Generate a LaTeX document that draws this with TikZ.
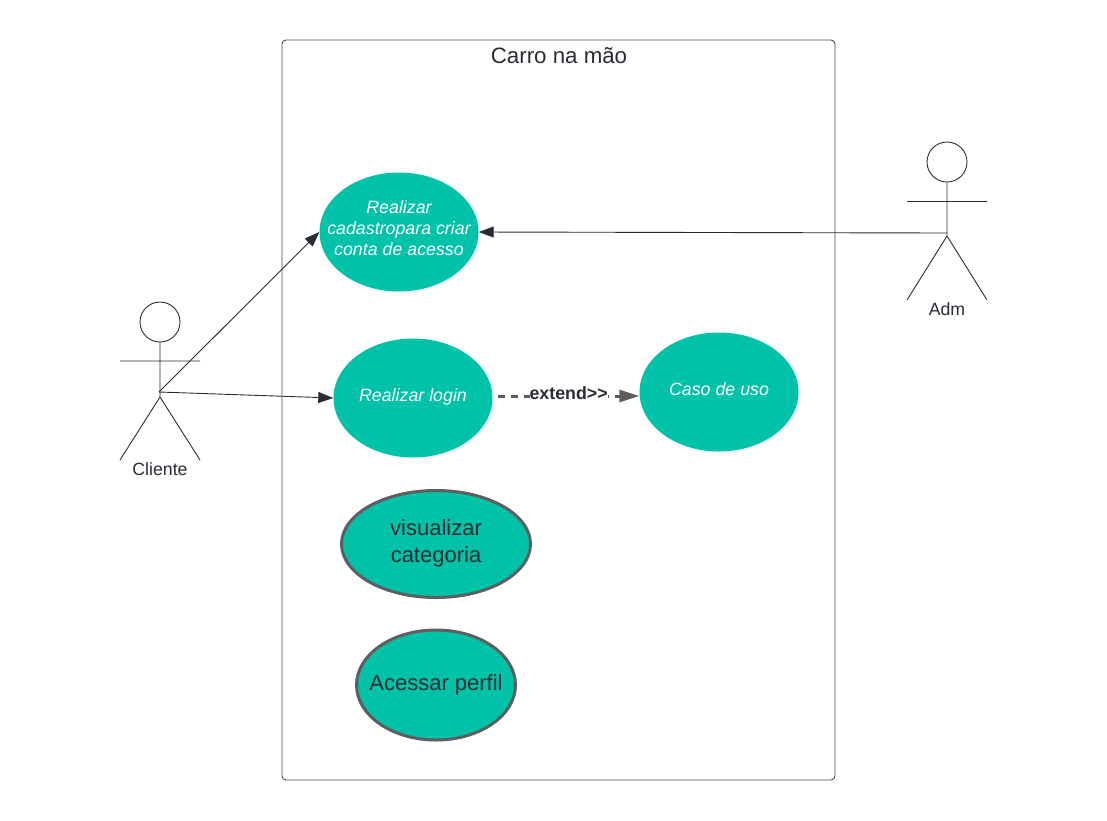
\documentclass[tikz,border=0pt]{standalone}
\usepackage{fontspec}
\setmainfont{Liberation Sans}
\usetikzlibrary{arrows.meta,shapes.geometric}
\definecolor{ink}{HTML}{282C33}
\definecolor{teal1}{HTML}{00C2A8}
\definecolor{edgegray}{HTML}{5E5E5E}
\newcommand{\lifted}[2]{\raisebox{#1}[0pt][0pt]{\begin{tabular}{@{}c@{}}#2\end{tabular}}}
\tikzset{
  x=1pt,y=-1pt,
  actorline/.style={draw=ink,line width=0.9pt},
  usecase/.style={ellipse,fill=teal1,draw=none,inner xsep=-40pt,inner ysep=-20pt,text=white,font=\fontsize{17.8}{21.3}\selectfont\itshape},
  usecasebold/.style={ellipse,fill=teal1,draw=edgegray,line width=3pt,inner xsep=-40pt,inner ysep=-20pt,text=ink,font=\fontsize{22}{27}\selectfont},
  assoc/.style={draw=ink,line width=0.9pt,-{Triangle[length=15pt,width=11pt,fill=ink]}},
  actorlabel/.style={text=ink,font=\fontsize{17.7}{21}\selectfont,inner sep=0pt},
}
\begin{document}
\begin{tikzpicture}
\useasboundingbox (0,0) rectangle (1107,820);
\node[draw=ink!85,line width=0.9pt,rounded corners=4pt,minimum width=553pt,minimum height=740pt,inner sep=0pt] (system) at (558.5,410) {};
\node[text=ink,font=\fontsize{22.3}{26}\selectfont,inner sep=0pt] (title) at (559,56) {Carro na mão};
% Cliente
\node[circle,actorline,minimum size=40pt,inner sep=0pt] (chead) at (160,322) {};
\coordinate (chip) at (160,397);
\coordinate (carmL) at (120,361);
\coordinate (carmR) at (200,361);
\coordinate (clegL) at (120,460);
\coordinate (clegR) at (200,460);
\coordinate (chand) at (159,392);
\draw[actorline] (chead.south) -- (chip) (carmL) -- (carmR) (clegL) -- (chip) -- (clegR);
\node[actorlabel] (clabel) at (160,469) {Cliente};
% Adm
\node[circle,actorline,minimum size=40pt,inner sep=0pt] (ahead) at (947,162) {};
\coordinate (ahip) at (947,236);
\coordinate (aarmL) at (907,201.5);
\coordinate (aarmR) at (987,201.5);
\coordinate (alegL) at (907,300);
\coordinate (alegR) at (987,300);
\coordinate (ahand) at (947,233);
\draw[actorline] (ahead.south) -- (ahip) (aarmL) -- (aarmR) (alegL) -- (ahip) -- (alegR);
\node[actorlabel] (alabel) at (947,309) {Adm};
% Use cases
\node[usecase,minimum width=159pt,minimum height=119pt] (cadastro) at (399,232) {\lifted{-2.45pt}{Realizar\\cadastropara criar\\conta de acesso}};
\node[usecase,minimum width=159pt,minimum height=119pt] (login) at (413,398) {\lifted{-3.45pt}{Realizar login}};
\node[usecase,minimum width=159pt,minimum height=119pt] (caso) at (719,392) {\lifted{-3.45pt}{Caso de uso}};
\node[usecasebold,minimum width=189pt,minimum height=107pt] (categoria) at (436,544) {\lifted{-4.5pt}{visualizar\\categoria}};
\node[usecasebold,minimum width=159pt,minimum height=110pt] (perfil) at (436,685) {\lifted{-5.5pt}{Acessar perfil}};
% Connectors
\draw[assoc] (chand) -- (cadastro.west);
\draw[assoc] (chand) -- (login.west);
\draw[assoc] (ahand) -- (cadastro.east);
\coordinate (extstart) at (498,396);
\draw[draw=edgegray,line width=3pt,dash pattern=on 7pt off 6pt,-{Triangle[length=20pt,width=12pt,fill=edgegray]}] (extstart) -- (caso.west |- extstart) node[midway,fill=white,inner sep=0pt,text=ink,font=\fontsize{17.8}{21}\selectfont\bfseries,yshift=3pt] (extlabel) {extend>{}>};
\end{tikzpicture}
\end{document}
